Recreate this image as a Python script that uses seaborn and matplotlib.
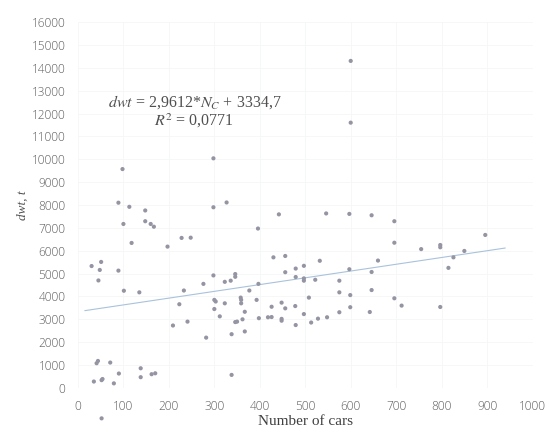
import numpy as np
import pandas as pd
import matplotlib.pyplot as plt
import seaborn as sns

# number of cars vs deadweight (t)
cars = [600, 600, 298, 98, 89, 113, 148, 298, 327, 442, 546, 597, 646, 696,
        100, 148, 160, 167, 396, 118, 197, 228, 248, 896, 696, 755, 797, 797,
        850, 826, 815, 660, 532, 430, 456, 497, 479, 456, 597, 646, 30, 51,
        48, 89, 45, 298, 346, 346, 479, 497, 497, 522, 575, 276, 323, 336,
        397, 101, 135, 233, 377, 575, 599, 646, 696, 712, 508, 599, 797, 223,
        300, 303, 323, 358, 359, 359, 393, 426, 448, 456, 478, 300, 312, 367,
        362, 346, 350, 398, 418, 426, 448, 448, 479, 497, 513, 528, 548, 575,
        642, 209, 241, 338, 367, 282, 338, 41, 44, 71, 90, 138, 138, 162,
        170, 35, 52, 54, 79, 52]
dwt = [14300, 11600, 10040, 9570, 8100, 7920, 7760, 7900, 8110, 7590, 7630,
       7610, 7550, 7290, 7170, 7290, 7170, 7050, 6970, 6340, 6180, 6560, 6570,
       6690, 6350, 6070, 6250, 6150, 5990, 5710, 5250, 5570, 5560, 5710, 5770,
       5340, 5220, 5060, 5190, 5070, 5330, 5510, 5160, 5130, 4700, 4920, 4980,
       4860, 4850, 4790, 4690, 4730, 4690, 4550, 4640, 4690, 4550, 4250, 4180,
       4260, 4260, 4180, 4060, 4280, 3920, 3600, 3950, 3530, 3540, 3660, 3850,
       3780, 3700, 3950, 3850, 3700, 3850, 3550, 3730, 3480, 3580, 3450, 3130,
       3330, 3000, 2880, 2900, 3050, 3090, 3100, 3020, 2940, 2750, 3230, 2860,
       3030, 3090, 3310, 3320, 2730, 2900, 2350, 2470, 2200, 570, 1080, 1180,
       1110, 630, 860, 470, 600, 640, 280, 340, 390, 200, -1330]

# trendline as printed on the chart
slope = 2.9612
intercept = 3334.7
trend_x = [15, 940]

x_ticks = list(range(0, 1001, 100))
y_ticks = list(range(0, 16001, 1000))

df = pd.DataFrame({"cars": cars, "dwt": dwt})

sns.set_style("white")
plt.rcParams['font.family'] = ['Liberation Serif', 'DejaVu Serif']
plt.rcParams['mathtext.fontset'] = 'stix'

fig = plt.figure(figsize=(5.49, 4.32), dpi=100)
ax = fig.add_axes([0.142, 0.102, 0.828, 0.847])

ax.grid(True, color="#f5f7f7", linewidth=0.6)
sns.scatterplot(data=df, x="cars", y="dwt", ax=ax, s=9, color="#9494a2",
                edgecolor="none", zorder=3)
ax.collections[0].set_clip_on(False)

tx = np.array(trend_x)
sns.lineplot(x=tx, y=slope * tx + intercept, ax=ax, color="#a9c2dc",
             linewidth=0.8, zorder=2)

ax.set_xlim(0, 1000)
ax.set_ylim(0, 16000)
ax.set_xticks(x_ticks)
ax.set_yticks(y_ticks)
for s in ax.spines.values():
    s.set_visible(False)
ax.tick_params(length=0, labelsize=8.6, labelcolor="#606060")
ax.tick_params(axis="x", pad=9)
ax.tick_params(axis="y", pad=9)
for lab in ax.get_xticklabels() + ax.get_yticklabels():
    lab.set_family("Open Sans")
    lab.set_fontweight("light")

ax.set_xlabel("Number of cars", fontsize=11, color="#404040", labelpad=1)
ax.set_ylabel("dwt, t", fontsize=9.5, color="#505050", style="italic", labelpad=2)

ax.text(0.256, 0.755, "$dwt$ = 2,9612*$N_C$ + 3334,7\n$R^2$ = 0,0771",
        transform=ax.transAxes, ha="center", va="center", multialignment="center",
        fontsize=11.5, color="#505050", linespacing=1.05)

fig.savefig("out.png", dpi=100)
